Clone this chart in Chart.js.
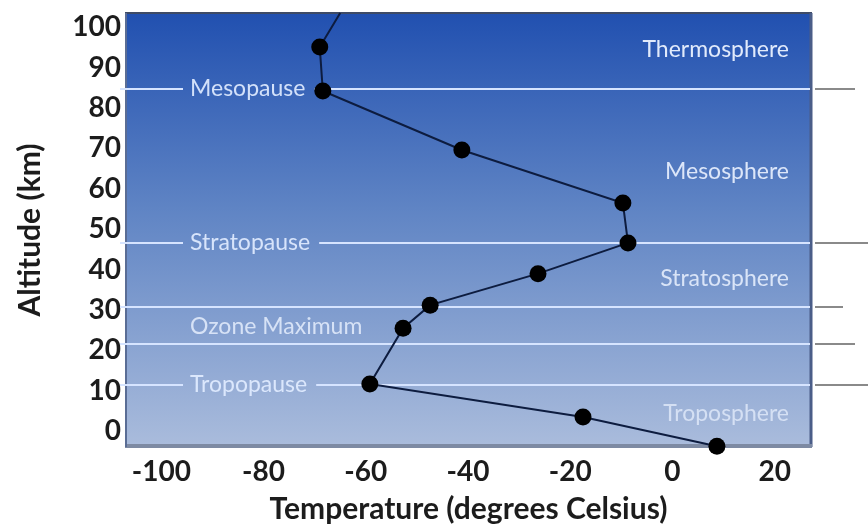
<!DOCTYPE html>
<html>
<head>
<meta charset="utf-8">
<script src="https://cdn.jsdelivr.net/npm/chart.js@4.4.0/dist/chart.umd.min.js"></script>
<style>
  html, body { margin: 0; padding: 0; background: #fff; }
  #wrap { width: 868px; height: 527px; }
</style>
</head>
<body>
<div id="wrap"><canvas id="chart"></canvas></div>
<script>
// --- Datos ---
// perfil de temperatura (°C) contra altitud (km); el primero es donde la linea sale por arriba
const temps = [-65.0, -69.0, -68.4, -41.2, -9.7, -8.7, -26.3, -47.4, -52.7, -59.2, -17.5, 8.7];
const alts  = [103.5, 95.1, 84.2, 69.6, 56.5, 46.6, 39.0, 31.2, 25.5, 11.7, 3.5, -3.7];

// limites entre capas
const boundaryAlts  = [84.7, 46.6, 30.7, 21.7, 11.4];
const boundaryNames = ["Mesopause", "Stratopause", "", "", "Tropopause"];

// nombres de las capas
const layerNames = ["Thermosphere", "Mesosphere", "Stratosphere", "Ozone Maximum", "Troposphere"];
const layerAlts  = [94.4, 64.2, 37.9, 25.8, 4.3];

const xTicks = [-100, -80, -60, -40, -20, 0, 20];
const yTicks = [0, 10, 20, 30, 40, 50, 60, 70, 80, 90, 100];

// --- Estilos de las lineas de limite ---
const extEnds = [855, 868, 843, 855, 868];      // fin del tramo gris a la derecha
const layerLeft = [false, false, false, true, false];
const layerAlpha = [0.95, 0.9, 0.85, 0.8, 0.7];

const atmosPlugin = {
  id: "atmos",
  beforeDraw(chart) {
    const { ctx, chartArea: a } = chart;
    const g = ctx.createLinearGradient(0, a.top, 0, a.bottom);
    g.addColorStop(0, "#2150b0");
    g.addColorStop(0.45, "#5f84c4");
    g.addColorStop(1, "#aabcdc");
    ctx.save();
    ctx.fillStyle = g;
    ctx.fillRect(a.left, a.top, a.width, a.height);
    ctx.restore();
  },
  beforeDatasetsDraw(chart) {
    const { ctx, chartArea: a, scales } = chart;
    const y = scales.y;
    ctx.save();

    // marco
    ctx.strokeStyle = "#3e4b66";
    ctx.lineWidth = 2;
    ctx.beginPath(); ctx.moveTo(a.left, a.top); ctx.lineTo(a.right, a.top); ctx.stroke();
    ctx.strokeStyle = "#4a5d88";
    ctx.lineWidth = 3;
    ctx.beginPath(); ctx.moveTo(a.right - 1, a.top); ctx.lineTo(a.right - 1, a.bottom); ctx.stroke();
    ctx.strokeStyle = "#7d8aa3";
    ctx.lineWidth = 4;
    ctx.beginPath(); ctx.moveTo(a.left, a.bottom - 1); ctx.lineTo(a.right, a.bottom - 1); ctx.stroke();
    ctx.strokeStyle = "#5a6d95";
    ctx.lineWidth = 2;
    ctx.beginPath(); ctx.moveTo(a.left + 1, a.top); ctx.lineTo(a.left + 1, a.bottom); ctx.stroke();

    ctx.font = "23px Lato";
    ctx.textBaseline = "middle";

    // lineas de limite
    boundaryAlts.forEach((alt, i) => {
      const py = Math.round(y.getPixelForValue(alt));
      const name = boundaryNames[i];
      ctx.strokeStyle = "#d6e4ff";
      ctx.lineWidth = 2;
      ctx.beginPath();
      if (name) {
        const tx = 190;
        const w = ctx.measureText(name).width;
        ctx.moveTo(a.left - 5, py); ctx.lineTo(tx - 7, py);
        ctx.moveTo(tx + w + 9, py); ctx.lineTo(a.right - 2, py);
        ctx.stroke();
        ctx.fillStyle = "rgba(225,235,255,0.92)";
        ctx.textAlign = "left";
        ctx.fillText(name, tx, py);
      } else {
        ctx.moveTo(a.left - 5, py); ctx.lineTo(a.right - 2, py);
        ctx.stroke();
      }
      // tramo gris fuera del area
      ctx.strokeStyle = "#8a8a8a";
      ctx.beginPath();
      ctx.moveTo(a.right + 3, py); ctx.lineTo(extEnds[i], py);
      ctx.stroke();
    });

    // nombres de capas
    layerNames.forEach((name, i) => {
      const py = y.getPixelForValue(layerAlts[i]);
      ctx.fillStyle = `rgba(235,242,255,${layerAlpha[i]})`;
      if (layerLeft[i]) {
        ctx.textAlign = "left";
        ctx.fillText(name, 190, py);
      } else {
        ctx.textAlign = "right";
        ctx.fillText(name, 789, py);
      }
    });
    ctx.restore();
  }
};

const tickFont = { family: "Lato", size: 28, weight: "bold" };
const titleFont = { family: "Lato", size: 30, weight: "bold" };

new Chart(document.getElementById("chart"), {
  type: "scatter",
  data: {
    datasets: [{
      data: temps.map((t, i) => ({ x: t, y: alts[i] })),
      showLine: true,
      borderColor: "#0d1c3f",
      borderWidth: 2,
      pointRadius: ctx => (ctx.dataIndex === 0 ? 0 : 8.5),
      pointBackgroundColor: "#000",
      pointBorderWidth: 0,
      clip: false
    }]
  },
  options: {
    responsive: true,
    maintainAspectRatio: false,
    animation: false,
    layout: { padding: { top: 13, right: 56, left: 0, bottom: 0 } },
    plugins: { legend: { display: false }, tooltip: { enabled: false } },
    scales: {
      x: {
        type: "linear",
        min: -107.1,
        max: 27.3,
        afterBuildTicks: s => { s.ticks = xTicks.map(v => ({ value: v })); },
        afterFit: s => { s.height = 80; s.paddingLeft = 0; s.paddingRight = 0; },
        grid: { display: false, drawTicks: false },
        border: { display: false },
        ticks: { font: tickFont, color: "#1c1c1c", padding: 8, maxRotation: 0 },
        title: { display: true, text: "Temperature (degrees Celsius)", font: titleFont, color: "#1c1c1c", padding: { top: 0, bottom: 0 } }
      },
      y: {
        type: "linear",
        min: -3.9,
        max: 103.5,
        afterBuildTicks: s => { s.ticks = yTicks.map(v => ({ value: v })); },
        afterFit: s => { s.width = 125; s.paddingTop = 0; s.paddingBottom = 0; },
        grid: { display: false, drawTicks: false },
        border: { display: false },
        ticks: { font: tickFont, color: "#1c1c1c", padding: 4 },
        title: { display: true, text: "Altitude (km)", font: titleFont, color: "#1c1c1c", padding: { top: 12, bottom: 0 } }
      }
    }
  },
  plugins: [atmosPlugin]
});
</script>
</body>
</html>
